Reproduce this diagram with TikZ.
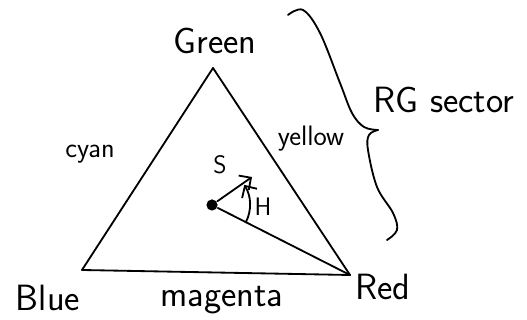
\documentclass[tikz,border=0pt]{standalone}
\usepackage{tikz}
\usetikzlibrary{arrows.meta}

\begin{document}
\begin{tikzpicture}[x=0.025cm,y=0.025cm,line width=1.3pt,line cap=round,line join=round,
  every node/.style={font=\sffamily\fontsize{26}{30}\selectfont},
  edgelabel/.style={font=\sffamily\fontsize{20}{24}\selectfont},
  smalllabel/.style={font=\sffamily\fontsize{18}{21}\selectfont}]
  \useasboundingbox (0,0) rectangle (527,320);
  % corners of the colour triangle
  \coordinate (green) at (213,252);
  \coordinate (blue) at (82,50);
  \coordinate (red) at (350,45);
  \draw (blue) -- (green) -- (red) -- cycle;
  \node (greenlabel) at (215,279) {Green};
  \node (bluelabel) at (48,22) {Blue};
  \node (redlabel) at (383,33) {Red};
  \node[edgelabel] (cyanlabel) at (90,166) {cyan};
  \node[edgelabel] (yellowlabel) at (311,181) {yellow};
  \node (magentalabel) at (222,20) {magenta};
  % hue and saturation
  \node[circle,fill,inner sep=0pt,minimum size=0.28cm] (dot) at (212,115) {};
  \coordinate (stip) at (252,143);
  \draw[-{Straight Barb[length=2.2mm]}] (dot) -- (stip);
  \draw (dot) -- (red);
  \draw[-{Straight Barb[length=2.2mm]}] ([shift={(-27:38)}]dot.center) arc[start angle=-27,end angle=32,radius=38];
  \node[smalllabel] (slabel) at (220,155) {S};
  \node[smalllabel] (hlabel) at (263,113) {H};
  % sector brace, drawn by hand
  \coordinate (bracetip) at (378,190);
  \draw plot[smooth,tension=0.6] coordinates {(288,305) (303,310) (320,287) (340,237) (352,207) (364,193) (bracetip)};
  \draw plot[smooth,tension=0.6] coordinates {(bracetip) (369,185) (368,170) (377,133) (393,107) (397,90) (387,80)};
  \node (sectorlabel) at (444,220) {RG sector};
\end{tikzpicture}
\end{document}
